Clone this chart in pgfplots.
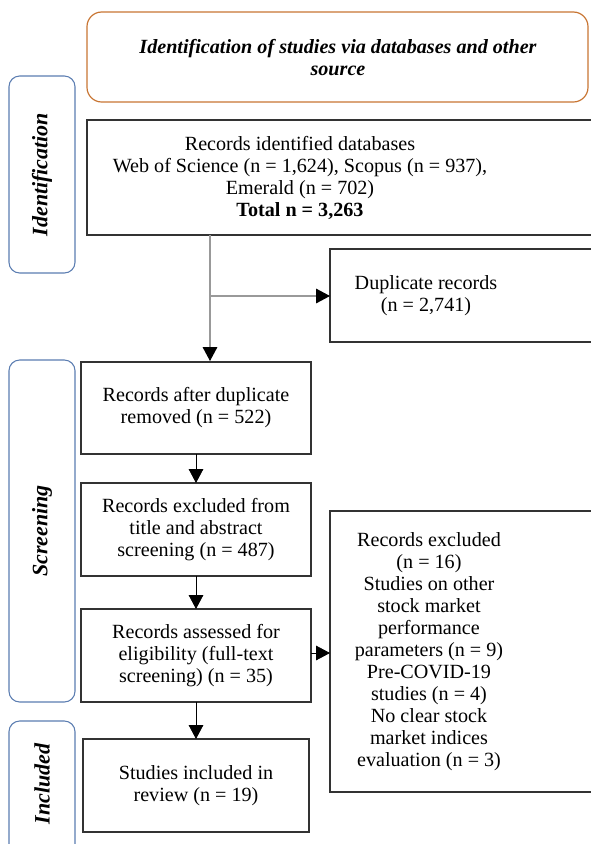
\documentclass[border=0pt]{standalone}
\usepackage{pgfplots}
\pgfplotsset{compat=1.18}
\usepackage{fontspec}
\setmainfont{Liberation Serif}
\usetikzlibrary{arrows.meta}
\definecolor{hdrorange}{HTML}{C87533}
\definecolor{sideblue}{HTML}{5B7DB1}
\definecolor{boxline}{HTML}{333333}
\definecolor{connect}{HTML}{999999}
\newcommand{\fs}{\fontsize{15.1}{16.5}\selectfont}
\newcommand{\fl}{\fontsize{16.5}{18}\selectfont}
\begin{document}
\begin{tikzpicture}
\path[use as bounding box] (0,0) rectangle (443.25pt,633pt);
\begin{axis}[
  at={(0,0)}, anchor=south west,
  scale only axis, width=443.25pt, height=633pt,
  xmin=0, xmax=591, ymin=0, ymax=844, y dir=reverse,
  hide axis, clip=false,
]
% header
\draw[hdrorange, line width=0.9pt, rounded corners=11pt] (axis cs:87,12) rectangle (axis cs:588,102);
\node[align=center, font=\fs\bfseries\itshape] at (axis cs:338,57.5) {Identification of studies via databases and other\\source};
% side labels
\draw[sideblue, line width=0.8pt, rounded corners=8pt] (axis cs:9,76) rectangle (axis cs:75,273);
\node[rotate=90, font=\fl\bfseries\itshape] at (axis cs:42,174.5) {Identification};
\draw[sideblue, line width=0.8pt, rounded corners=8pt] (axis cs:9,360) rectangle (axis cs:75,702);
\node[rotate=90, font=\fl\bfseries\itshape] at (axis cs:42,531) {Screening};
\draw[sideblue, line width=0.8pt, rounded corners=8pt] (axis cs:9,721) rectangle (axis cs:75,880);
\node[rotate=90, font=\fl\bfseries\itshape] at (axis cs:42,784) {Included};
% boxes
\draw[boxline, line width=0.8pt] (axis cs:87,120) rectangle (axis cs:600,235);
\node[align=center, font=\fs] at (axis cs:300,178) {Records identified databases\\Web of Science (n = 1,624), Scopus (n = 937),\\Emerald (n = 702)\\\textbf{Total n = 3,263}};
\draw[boxline, line width=0.8pt] (axis cs:330,249) rectangle (axis cs:600,342);
\node[align=center, font=\fs] at (axis cs:426,296) {Duplicate records\\(n = 2,741)};
\draw[boxline, line width=0.8pt] (axis cs:81,362) rectangle (axis cs:311,454);
\node[align=center, font=\fs] at (axis cs:196,408) {Records after duplicate\\removed (n = 522)};
\draw[boxline, line width=0.8pt] (axis cs:81,483) rectangle (axis cs:311,576);
\node[align=center, font=\fs] at (axis cs:196,530) {Records excluded from\\title and abstract\\screening (n = 487)};
\draw[boxline, line width=0.8pt] (axis cs:81,609) rectangle (axis cs:311,702);
\node[align=center, font=\fs] at (axis cs:196,656) {Records assessed for\\eligibility (full-text\\screening) (n = 35)};
\draw[boxline, line width=0.8pt] (axis cs:330,511) rectangle (axis cs:600,792);
\node[align=center, font=\fs] at (axis cs:429,652) {Records excluded\\(n = 16)\\Studies on other\\stock market\\performance\\parameters (n = 9)\\Pre-COVID-19\\studies (n = 4)\\No clear stock\\market indices\\evaluation (n = 3)};
\draw[boxline, line width=0.8pt] (axis cs:83,739) rectangle (axis cs:309,832);
\node[align=center, font=\fs] at (axis cs:196,786) {Studies included in\\review (n = 19)};
% connectors
\draw[connect, line width=0.8pt, -{Triangle[length=10.5pt,width=11pt,black]}] (axis cs:210,235) -- (axis cs:210,361);
\draw[connect, line width=0.8pt, -{Triangle[length=10.5pt,width=11pt,black]}] (axis cs:210,296) -- (axis cs:330,296);
\draw[black, line width=0.6pt, -{Triangle[length=10.5pt,width=11pt]}] (axis cs:196,454) -- (axis cs:196,483);
\draw[black, line width=0.6pt, -{Triangle[length=10.5pt,width=11pt]}] (axis cs:196,576) -- (axis cs:196,609);
\draw[black, line width=0.6pt, -{Triangle[length=10.5pt,width=11pt]}] (axis cs:196,702) -- (axis cs:196,739);
\draw[black, line width=0.6pt, -{Triangle[length=10.5pt,width=11pt]}] (axis cs:311,653) -- (axis cs:330,653);
\end{axis}
\end{tikzpicture}
\end{document}
